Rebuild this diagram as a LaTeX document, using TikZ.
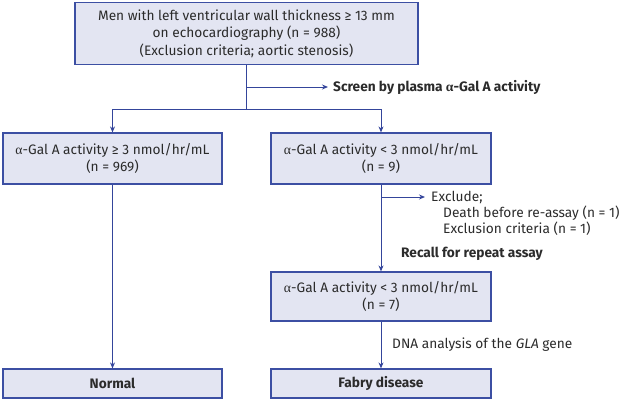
\documentclass[tikz,border=0pt]{standalone}
\usepackage{fontspec}
\setmainfont{Fira Sans}
\newfontfamily\grk{Liberation Serif}
\usetikzlibrary{arrows.meta}
\definecolor{boxfill}{HTML}{E3E5F2}
\definecolor{boxline}{HTML}{3C4FA3}
\definecolor{flowline}{HTML}{34459B}
\definecolor{txt}{HTML}{2B2B2B}
\newcommand{\agal}{{\grk α}}
\tikzset{
	stage/.style={draw=boxline, fill=boxfill, line width=1.2pt, align=center, inner sep=0pt, text=txt, font=\fontsize{13.7}{17.5}\selectfont},
	flow/.style={draw=flowline, line width=1pt},
	flowarr/.style={flow, -{Stealth[length=6pt,width=5pt]}},
	note/.style={anchor=west, inner sep=0pt, text=txt, font=\fontsize{13.7}{17}\selectfont}
}

\begin{document}
\begin{tikzpicture}[x=1pt,y=-1pt]
	\useasboundingbox (0,0) rectangle (620,400);
	% boxes
	\node [stage, minimum width=343pt, minimum height=62pt] (men) at (246.5,33.5){Men with left ventricular wall thickness ≥ 13 mm\\on echocardiography (n = 988)\\(Exclusion criteria; aortic stenosis)};
	\node [stage, minimum width=219pt, minimum height=51pt] (high) at (112.5,158.5){\agal-Gal A activity ≥ 3 nmol/hr/mL\\(n = 969)};
	\node [stage, minimum width=220pt, minimum height=51pt] (low) at (381,158.5){\agal-Gal A activity < 3 nmol/hr/mL\\(n = 9)};
	\node [stage, minimum width=220pt, minimum height=49pt] (retest) at (381,296.5){\agal-Gal A activity < 3 nmol/hr/mL\\(n = 7)};
	\node [stage, minimum width=219pt, minimum height=29pt, font=\fontsize{13.7}{17}\bfseries] (normal) at (112.5,383.5){Normal};
	\node [stage, minimum width=220pt, minimum height=29pt, font=\fontsize{13.7}{17}\bfseries] (fabry) at (381,383.5){Fabry disease};
	% side texts
	\node [note, font=\fontsize{13.7}{17}\bfseries] (screen) at (333,87){Screen by plasma \agal-Gal A activity};
	\node [note] (excl) at (431,197){Exclude;};
	\node [note] (excla) at (443,213){Death before re-assay (n = 1)};
	\node [note] (exclb) at (443,229){Exclusion criteria (n = 1)};
	\node [note, font=\fontsize{13.7}{17}\bfseries] (recall) at (401,254){Recall for repeat assay};
	\node [note] (dna) at (392,345){DNA analysis of the \textit{GLA} gene};
	\coordinate (split) at (246.5,109);
	\coordinate (scr) at (246.5,87);
	\coordinate (exc) at (381,197);
	% connectors
	\draw [flow](men.south)--(split);
	\draw [flowarr](scr)--([xshift=-5pt]screen.west);
	\draw [flowarr](split)-|(high.north);
	\draw [flowarr](split)-|(low.north);
	\draw [flowarr](low.south)--(retest.north);
	\draw [flowarr](exc)--([xshift=-6pt]excl.west);
	\draw [flowarr](retest.south)--(fabry.north);
	\draw [flowarr](high.south)--(normal.north);
\end{tikzpicture}
\end{document}
